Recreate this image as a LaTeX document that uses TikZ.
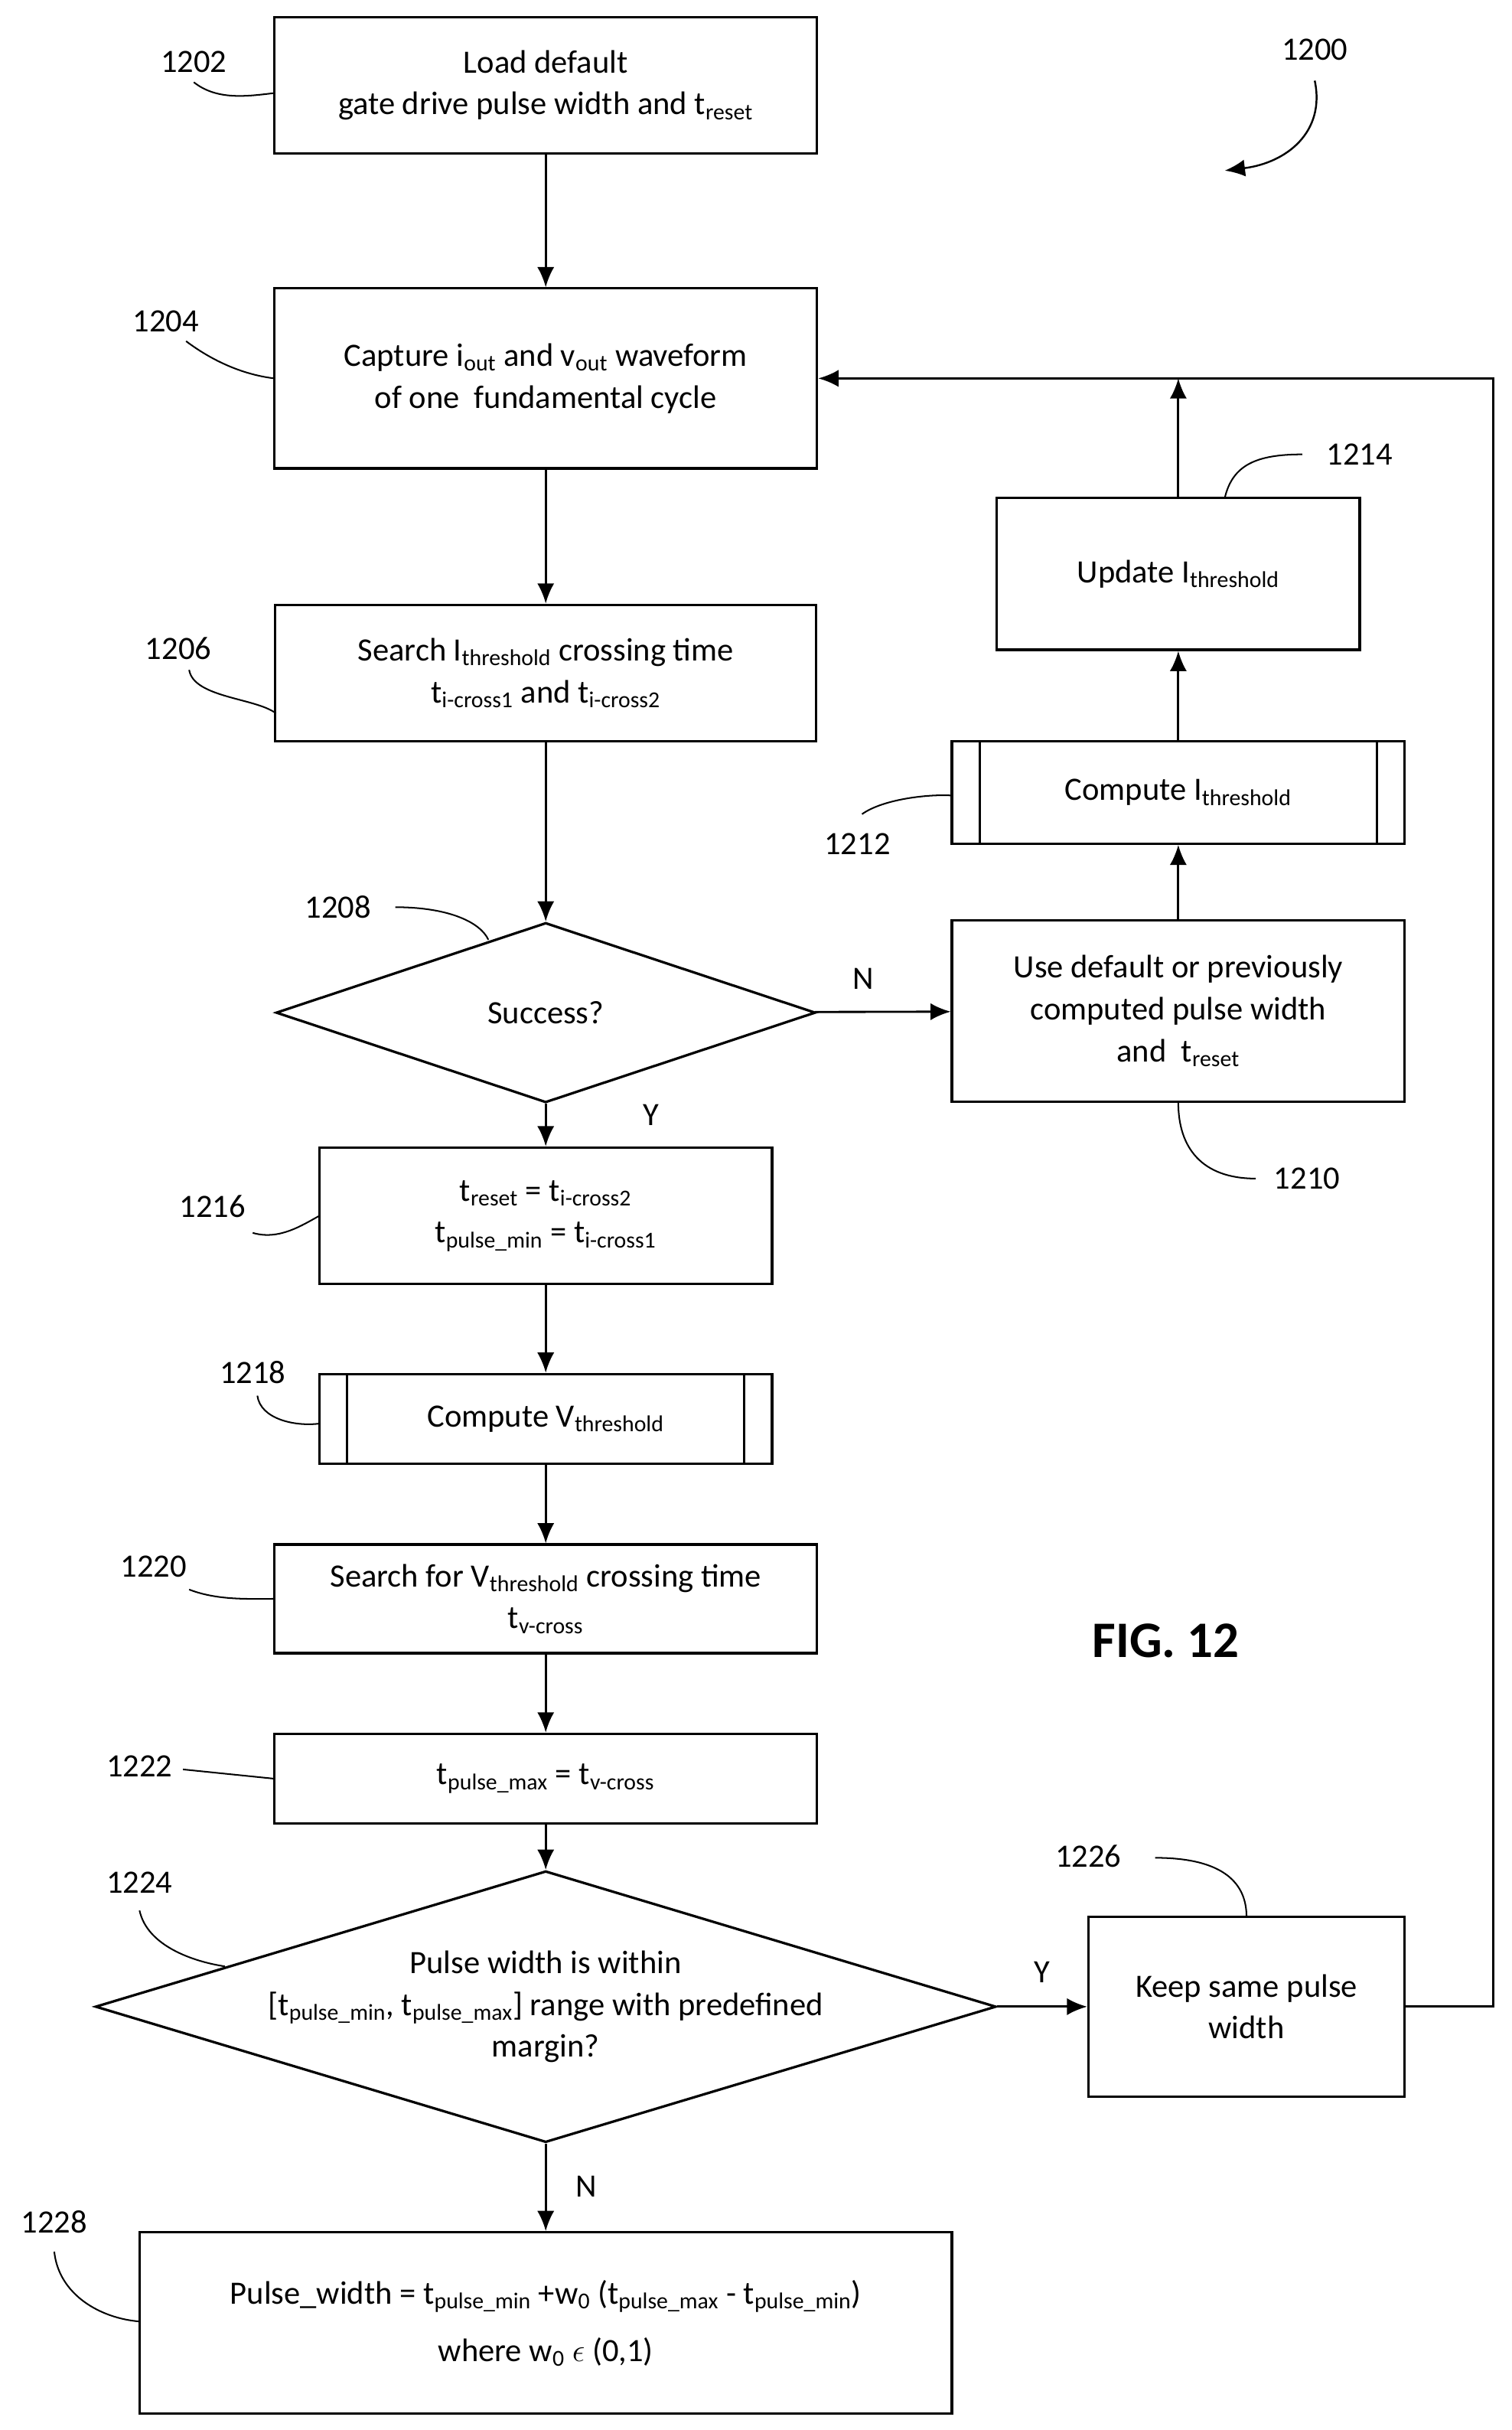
\documentclass[tikz,border=0pt]{standalone}
\usepackage{fontspec}
\setmainfont{Carlito}
\usetikzlibrary{shapes.geometric,arrows.meta}
\newcommand{\sbs}[1]{\textsubscript{#1}}
\begin{document}
\begin{tikzpicture}[x=1pt,y=-1pt,
  every node/.style={font=\fontsize{21}{27}\selectfont},
  box/.style={draw,line width=1.6pt,align=center,inner sep=0pt},
  ln/.style={line width=1.4pt},
  arr/.style={line width=1.4pt,-{Latex[length=13pt,width=11pt]}},
  lab/.style={font=\fontsize{21}{25}\selectfont}]
\useasboundingbox (0,0) rectangle (975,1567);
% boxes
\node[box,minimum width=350,minimum height=88] (b1202) at (352,55) {Load default\\gate drive pulse width and t\sbs{reset}};
\node[box,minimum width=350,minimum height=116] (b1204) at (352,244) {Capture i\sbs{out} and v\sbs{out} waveform\\of one\ \ fundamental cycle};
\node[box,minimum width=349,minimum height=88] (b1206) at (352,434) {Search I\sbs{threshold} crossing time\\t\sbs{i-cross1} and t\sbs{i-cross2}};
\node[box,diamond,aspect=3,minimum width=348,minimum height=116] (b1208) at (352,653) {};
\node at (352,653) {Success?};
\node[box,minimum width=292,minimum height=88] (b1216) at (352,784) {t\sbs{reset} = t\sbs{i-cross2}\\t\sbs{pulse\_min} = t\sbs{i-cross1}};
\node[box,minimum width=292,minimum height=58] (b1218) at (352,915) {Compute V\sbs{threshold}};
\draw[ln] (224,886) -- (224,944) (480,886) -- (480,944);
\node[box,minimum width=350,minimum height=70] (b1220) at (352,1031) {Search for V\sbs{threshold} crossing time\\t\sbs{v-cross}};
\node[box,minimum width=350,minimum height=58] (b1222) at (352,1147) {t\sbs{pulse\_max} = t\sbs{v-cross}};
\node[box,diamond,aspect=3.32,minimum width=581,minimum height=175] (b1224) at (352,1294) {};
\node[align=center] at (352,1294) {Pulse width is within\\{}[t\sbs{pulse\_min}, t\sbs{pulse\_max}] range with predefined\\margin?};
\node[box,minimum width=524,minimum height=117] (b1228) at (352,1498) {Pulse\_width = t\sbs{pulse\_min} +w\sbs{0} (t\sbs{pulse\_max} - t\sbs{pulse\_min})\\[10pt] where w\sbs{0} $\epsilon$ (0,1)};
\node[box,minimum width=204,minimum height=116] (b1226) at (804,1294) {Keep same pulse\\width};
\node[box,minimum width=292,minimum height=117] (b1210) at (760,652) {Use default or previously\\computed pulse width\\and\ \ t\sbs{reset}};
\node[box,minimum width=292,minimum height=66] (b1212) at (760,511) {Compute I\sbs{threshold}};
\draw[ln] (632,478) -- (632,544) (888,478) -- (888,544);
\node[box,minimum width=234,minimum height=98] (b1214) at (760,370) {Update I\sbs{threshold}};
% arrows
\draw[arr] (b1202) -- (b1204);
\draw[arr] (b1204) -- (b1206);
\draw[arr] (b1206) -- (b1208);
\draw[arr] (b1208) -- (b1216);
\draw[arr] (b1216) -- (b1218);
\draw[arr] (b1218) -- (b1220);
\draw[arr] (b1220) -- (b1222);
\draw[arr] (b1222) -- (b1224);
\draw[arr] (b1224) -- (b1228);
\draw[arr] (b1224) -- (b1226);
\draw[arr] (b1208) -- (b1210);
\draw[arr] (b1210) -- (b1212);
\draw[arr] (b1212) -- (b1214);
\coordinate (fr) at (963,1294);
\coordinate (ft) at (963,244);
\coordinate (fm) at (760,244);
\draw[arr] (b1226.east) -- (fr) -- (ft) -- (b1204.east);
\draw[arr] (b1214) -- (fm);
% Y/N
\node at (557,631) {N};
\node at (420,719) {Y};
\node at (672,1272) {Y};
\node at (378,1410) {N};
\node[font=\bfseries\fontsize{33}{36}\selectfont] (fig) at (752,1058) {FIG. 12};
% ref labels
\node[lab] (l1200) at (848,32) {1200};
\draw[arr,line width=1.2pt] (848,52) .. controls (855,85) and (830,105) .. (790,110);
\node[lab] (l1202) at (125,40) {1202};
\draw[ln,line width=1pt] (125,53) .. controls (140,65) and (160,62) .. (177,60);
\node[lab] (l1204) at (107,207) {1204};
\draw[ln,line width=1pt] (120,220) .. controls (140,235) and (160,242) .. (177,244);
\node[lab] (l1206) at (115,418) {1206};
\draw[ln,line width=1pt] (122,432) .. controls (125,450) and (165,450) .. (178,460);
\node[lab] (l1208) at (218,585) {1208};
\draw[ln,line width=1pt] (255,585) .. controls (290,585) and (310,595) .. (315,606);
\node[lab] (l1212) at (553,544) {1212};
\draw[ln,line width=1pt] (556,525) .. controls (570,515) and (600,512) .. (614,513);
\node[lab] (l1214) at (877,293) {1214};
\draw[ln,line width=1pt] (840,293) .. controls (810,293) and (795,300) .. (790,321);
\node[lab] (l1210) at (843,760) {1210};
\draw[ln,line width=1pt] (810,760) .. controls (775,760) and (760,740) .. (760,711);
\node[lab] (l1216) at (137,778) {1216};
\draw[ln,line width=1pt] (163,795) .. controls (180,800) and (195,790) .. (206,784);
\node[lab] (l1218) at (163,885) {1218};
\draw[ln,line width=1pt] (166,900) .. controls (168,915) and (190,920) .. (206,918);
\node[lab] (l1220) at (99,1010) {1220};
\draw[ln,line width=1pt] (122,1025) .. controls (140,1032) and (160,1031) .. (177,1031);
\node[lab] (l1222) at (90,1139) {1222};
\draw[ln,line width=1pt] (118,1141) -- (177,1147);
\node[lab] (l1224) at (90,1214) {1224};
\draw[ln,line width=1pt] (90,1232) .. controls (95,1255) and (125,1265) .. (145,1268);
\node[lab] (l1226) at (702,1197) {1226};
\draw[ln,line width=1pt] (745,1198) .. controls (790,1198) and (804,1215) .. (804,1236);
\node[lab] (l1228) at (35,1433) {1228};
\draw[ln,line width=1pt] (35,1452) .. controls (38,1480) and (65,1495) .. (90,1497);
\end{tikzpicture}
\end{document}
